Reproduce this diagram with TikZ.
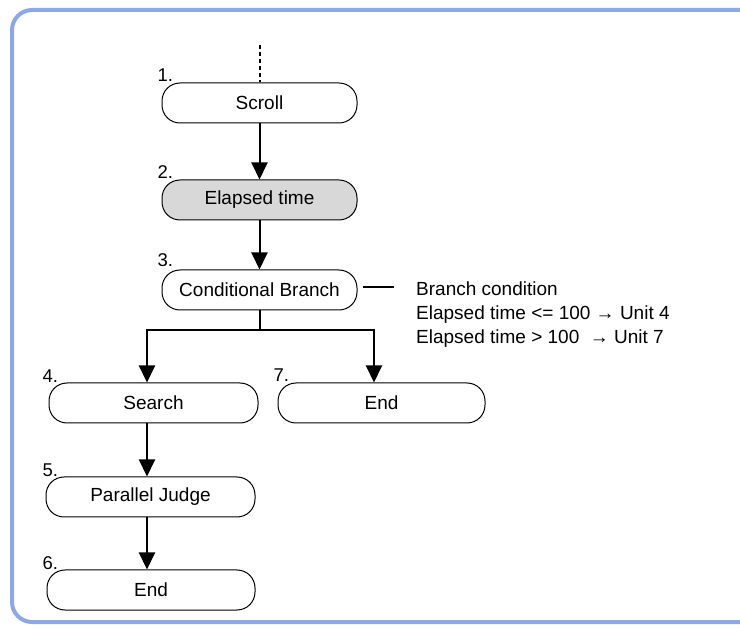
\documentclass[tikz,border=0pt]{standalone}
\usepackage{fontspec}
\setmainfont{Liberation Sans}
\usetikzlibrary{arrows.meta,positioning}
\definecolor{frameblue}{RGB}{140,168,232}
\definecolor{unitgray}{RGB}{216,216,216}

\begin{document}
\begin{tikzpicture}[x=1pt,y=-1pt,
        unit/.style={draw, line width=1pt, rounded corners=18pt, minimum height=40pt,
          inner sep=0pt, font=\fontsize{19}{21}\selectfont},
        link/.style={-{Triangle[length=17pt,width=16pt]}, line width=2pt},
        num/.style={inner sep=0pt, font=\fontsize{18.5}{20}\selectfont}
      ]
      \useasboundingbox (0,0) rectangle (740,628);
      \clip (0,0) rectangle (740,628);
      \draw[frameblue, line width=4pt, rounded corners=20pt] (12,10) rectangle (770,622);
      % units
      \node[unit, minimum width=195pt] (scroll) at (259.5,103) {Scroll};
      \node[unit, minimum width=195pt, fill=unitgray] (elapsed) at (259.5,200) {Elapsed time};
      \node[unit, minimum width=195pt] (branch) at (259.5,290) {Conditional Branch};
      \node[unit, minimum width=209pt] (search) at (153.5,403) {Search};
      \node[unit, minimum width=207pt] (end7) at (381.5,403) {End};
      \node[unit, minimum width=209pt] (judge) at (150.5,497) {Parallel Judge};
      \node[unit, minimum width=208pt] (end6) at (151,590) {End};
      % unit numbers
      \node[num, above right=1pt and -4pt of scroll.north west] {1.};
      \node[num, above right=1pt and -4pt of elapsed.north west] {2.};
      \node[num, above right=3pt and -4pt of branch.north west] {3.};
      \node[num, above right=0pt and -6pt of search.north west] {4.};
      \node[num, above right=1pt and -4pt of end7.north west] {7.};
      \node[num, above right=0pt and -3pt of judge.north west] {5.};
      \node[num, above right=0pt and -4pt of end6.north west] {6.};
      % branch condition
      \node[anchor=north west, inner sep=0pt, align=left,
        font=\fontsize{19}{24}\selectfont] (cond) at (416,282)
        {Branch condition\\Elapsed time <= 100 → Unit 4\\Elapsed time > 100 \ → Unit 7};
      \draw[line width=1.5pt, shorten <=5pt, shorten >=22pt]
        ([yshift=3pt]branch.east) -- ([yshift=3pt]branch.east -| cond.west);
      % flow
      \coordinate (entry) at (259.5,45);
      \coordinate (forkL) at (147,330);
      \coordinate (forkR) at (374,330);
      \draw[line width=2pt, dash pattern=on 4pt off 3pt] (entry) -- (scroll.north);
      \draw[link] (scroll) -- (elapsed);
      \draw[link] (elapsed) -- (branch);
      \draw[link] (branch.south) |- (forkL) -- (forkL |- search.north);
      \draw[link] (branch.south) |- (forkR) -- (forkR |- end7.north);
      \draw[link] (forkL |- search.south) -- (forkL |- judge.north);
      \draw[link] (forkL |- judge.south) -- (forkL |- end6.north);
    \end{tikzpicture}
\end{document}
